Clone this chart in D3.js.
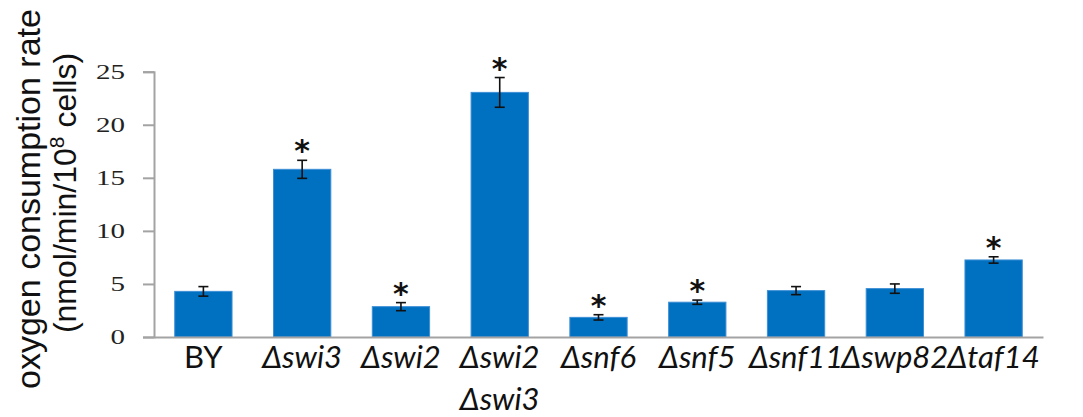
<!DOCTYPE html>
<html>
<head>
<meta charset="utf-8">
<script src="https://cdn.jsdelivr.net/npm/d3@7"></script>
<style>
  html, body { margin: 0; padding: 0; background: #fff; }
  svg { display: block; }
</style>
</head>
<body>
<svg id="chart" width="1083" height="417"></svg>
<script>
// ---- data ----
const categories = ["BY", "swi3", "swi2", "swi2 swi3", "snf6", "snf5", "snf11", "swp82", "taf14"];
const labelLines = [["BY"], ["Δswi3"], ["Δswi2"], ["Δswi2", "Δswi3"], ["Δsnf6"], ["Δsnf5"], ["Δsnf11"], ["Δswp82"], ["Δtaf14"]];
const values = [4.3, 15.8, 2.86, 23.05, 1.85, 3.28, 4.37, 4.56, 7.26];
const errors = [0.45, 0.85, 0.38, 1.4, 0.25, 0.2, 0.38, 0.44, 0.3];
const significant = [false, true, true, true, true, true, false, false, true];
const yTicks = [0, 5, 10, 15, 20, 25];

const svg = d3.select("#chart");

const x = d3.scaleBand().domain(categories).range([154, 1043]).paddingInner(0.42).paddingOuter(0.21);
const y = d3.scaleLinear().domain([0, 25]).range([337, 71.7]);

const axisColor = "#a3a3a3";

// bars
svg.append("g").selectAll("rect").data(categories).join("rect")
  .attr("x", d => x(d))
  .attr("y", (d, i) => y(values[i]))
  .attr("width", x.bandwidth())
  .attr("height", (d, i) => y(0) - y(values[i]))
  .attr("fill", "#0070c0")
  .attr("stroke", "#3d8fd6")
  .attr("stroke-width", 1);

// y axis
const yAxis = d3.axisLeft(y).tickValues(yTicks).tickSize(11).tickPadding(18).tickFormat(d3.format("d"));
const gy = svg.append("g").attr("transform", "translate(154,0)").call(yAxis);
gy.select(".domain").attr("stroke", axisColor).attr("stroke-width", 2);
gy.selectAll(".tick line").attr("stroke", axisColor).attr("stroke-width", 2);
gy.selectAll(".tick text")
  .attr("fill", "#222")
  .style("font-family", "'Liberation Serif', 'DejaVu Serif', serif")
  .style("font-size", "20px")
  .attr("textLength", d => String(d).length * 14.5)
  .attr("lengthAdjust", "spacingAndGlyphs");

// x axis
const xAxis = d3.axisBottom(x).tickSize(0).tickFormat("");
const gx = svg.append("g").attr("transform", "translate(0,337)").call(xAxis);
gx.select(".domain").attr("stroke", axisColor).attr("stroke-width", 2);

// x labels
const xl = svg.append("g").selectAll("text").data(categories).join("text")
  .attr("x", d => x(d) + x.bandwidth() / 2)
  .attr("y", 368)
  .attr("text-anchor", "middle")
  .style("font-family", "Lato, 'Open Sans', sans-serif")
  .style("font-size", "31px")
  .style("font-style", (d, i) => i === 0 ? "normal" : "italic")
  .attr("fill", "#111");
xl.each(function(d, i) {
  const t = d3.select(this);
  labelLines[i].forEach((ln, k) => {
    t.append("tspan").attr("x", x(d) + x.bandwidth() / 2).attr("dy", k === 0 ? 0 : 42).text(ln);
  });
});

// error bars
const eg = svg.append("g").attr("stroke", "#111").attr("stroke-width", 1.6);
categories.forEach((c, i) => {
  const cx = x(c) + x.bandwidth() / 2;
  const top = y(values[i] + errors[i]);
  const bot = y(values[i] - errors[i]);
  eg.append("line").attr("x1", cx).attr("x2", cx).attr("y1", top).attr("y2", bot);
  eg.append("line").attr("x1", cx - 5).attr("x2", cx + 5).attr("y1", top).attr("y2", top);
  eg.append("line").attr("x1", cx - 5).attr("x2", cx + 5).attr("y1", bot).attr("y2", bot);
});

// significance stars
svg.append("g").selectAll("text").data(categories.filter((c, i) => significant[i])).join("text")
  .attr("x", d => x(d) + x.bandwidth() / 2)
  .attr("y", d => { const i = categories.indexOf(d); return y(values[i] + errors[i]) + 1; })
  .attr("text-anchor", "middle")
  .style("font-family", "'DejaVu Sans', sans-serif")
  .style("font-weight", "bold")
  .style("font-size", "30px")
  .attr("fill", "#111")
  .text("*");

// y title
svg.append("text")
  .attr("transform", "translate(40,199) rotate(-90)")
  .attr("text-anchor", "middle")
  .style("font-family", "'Liberation Sans', Arial, sans-serif")
  .style("font-size", "34px")
  .attr("fill", "#111")
  .text("oxygen consumption rate");
const yt2 = svg.append("text")
  .attr("transform", "translate(76,193) rotate(-90)")
  .attr("text-anchor", "middle")
  .style("font-family", "'Liberation Sans', Arial, sans-serif")
  .style("font-size", "32px")
  .attr("fill", "#111");
yt2.append("tspan").text("(nmol/min/10");
yt2.append("tspan").attr("dy", -12).style("font-size", "21px").text("8");
yt2.append("tspan").attr("dy", 12).text(" cells)");
</script>
</body>
</html>
